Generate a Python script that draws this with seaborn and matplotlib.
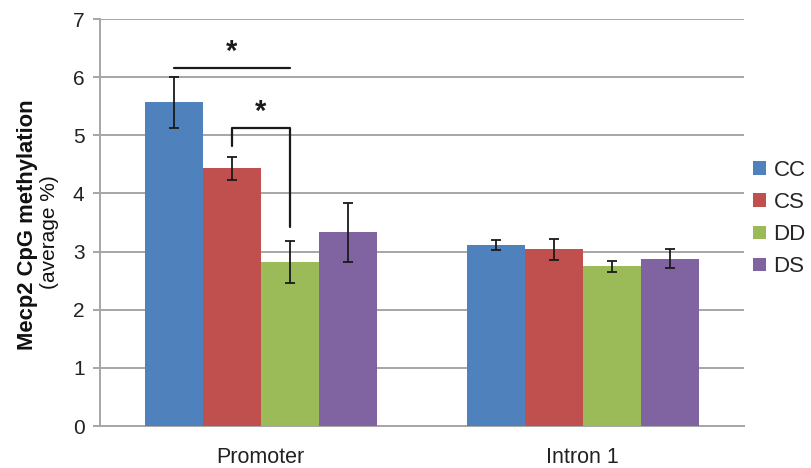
import matplotlib
matplotlib.use("Agg")
import matplotlib.pyplot as plt
import seaborn as sns
import pandas as pd
import numpy as np
from matplotlib.patches import Patch

# Methylation data (average % CpG methylation, mean and error)
regions = ["Promoter", "Intron 1"]
groups = ["CC", "CS", "DD", "DS"]
promoter_mean = [5.57, 4.43, 2.82, 3.33]
promoter_err = [0.44, 0.20, 0.36, 0.50]
intron_mean = [3.12, 3.04, 2.75, 2.88]
intron_err = [0.085, 0.18, 0.095, 0.165]
yticks = [0, 1, 2, 3, 4, 5, 6, 7]

colors = ["#4F81BD", "#C0504D", "#9BBB59", "#8064A2"]

df = pd.DataFrame({
    "region": [r for r in regions for _ in groups],
    "group": groups * 2,
    "mean": promoter_mean + intron_mean,
    "err": promoter_err + intron_err,
})

sns.set_style("white")
plt.rcParams["font.family"] = ["Liberation Sans", "DejaVu Sans"]

fig = plt.figure(figsize=(8.12, 4.68), dpi=100)
ax = fig.add_axes([0.123, 0.0897, 0.793, 0.8695])

sns.barplot(data=df, x="region", y="mean", hue="group", hue_order=groups,
            order=regions, palette=colors, width=0.72, saturation=1,
            errorbar=None, ax=ax, zorder=3, linewidth=0, legend=False)

# error bars at the centre of each bar
centers = {}
for gi, g in enumerate(groups):
    cont = ax.containers[gi]
    for ri, bar in enumerate(cont):
        cx = bar.get_x() + bar.get_width() / 2
        row = df[(df.region == regions[ri]) & (df.group == g)].iloc[0]
        centers[(regions[ri], g)] = cx
        ax.errorbar(cx, row["mean"], yerr=row["err"], fmt="none",
                    ecolor="#1a1a1a", elinewidth=1.3, capsize=3.5,
                    capthick=1.3, zorder=4)

ax.set_ylim(0, 7)
ax.set_xlim(-0.5, 1.5)
ax.set_yticks(yticks)
ax.yaxis.grid(True, color="#a6a6a6", linewidth=1.4, zorder=0)
ax.set_axisbelow(True)
for s in ["top", "right"]:
    ax.spines[s].set_visible(False)
for s in ["left", "bottom"]:
    ax.spines[s].set_color("#a6a6a6")
    ax.spines[s].set_linewidth(1.4)

ax.set_xticks([0, 1])
ax.set_xticklabels(regions)
ax.set_xticks([-0.5, 0.5, 1.5], minor=True)
ax.tick_params(axis="x", which="major", length=0, labelsize=15.5, pad=15,
               colors="#222222")
ax.tick_params(axis="x", which="minor", length=5, width=1.4, color="#a6a6a6",
               direction="out")
ax.tick_params(axis="y", length=5, width=1.4, color="#a6a6a6", labelsize=15,
               pad=6, labelcolor="#222222", left=True)
ax.set_xlabel("")
ax.set_ylabel("")

# two-line y-axis title: bold first line, regular second line
fig.text(28 / 812, 1 - 225 / 468, "Mecp2 CpG methylation", rotation=90,
         ha="center", va="center", fontsize=15.8, fontweight="bold",
         color="#111111")
fig.text(50 / 812, 1 - 232 / 468, "(average %)", rotation=90,
         ha="center", va="center", fontsize=15, color="#111111")

# significance brackets
x_cc = centers[("Promoter", "CC")]
x_cs = centers[("Promoter", "CS")]
x_dd = centers[("Promoter", "DD")]
ax.plot([x_cc, x_dd], [6.16, 6.16], color="#1a1a1a", lw=1.6, zorder=5,
        clip_on=False)
ax.text((x_cc + x_dd) / 2, 6.2, "*", ha="center", va="bottom",
        fontsize=21, fontweight="bold", color="#1a1a1a")
ax.plot([x_cs, x_cs, x_dd, x_dd], [4.81, 5.13, 5.13, 3.43], color="#1a1a1a",
        lw=1.6, zorder=5)
ax.text((x_cs + x_dd) / 2, 5.17, "*", ha="center", va="bottom",
        fontsize=21, fontweight="bold", color="#1a1a1a")

handles = [Patch(facecolor=c, edgecolor="none") for c in colors]
fig.legend(handles, groups, loc="center left", bbox_to_anchor=(0.917, 0.533),
           frameon=False, fontsize=16, handlelength=0.55, handleheight=0.55,
           handletextpad=0.35, labelspacing=0.5, borderaxespad=0)

fig.savefig("out.png", dpi=100)
